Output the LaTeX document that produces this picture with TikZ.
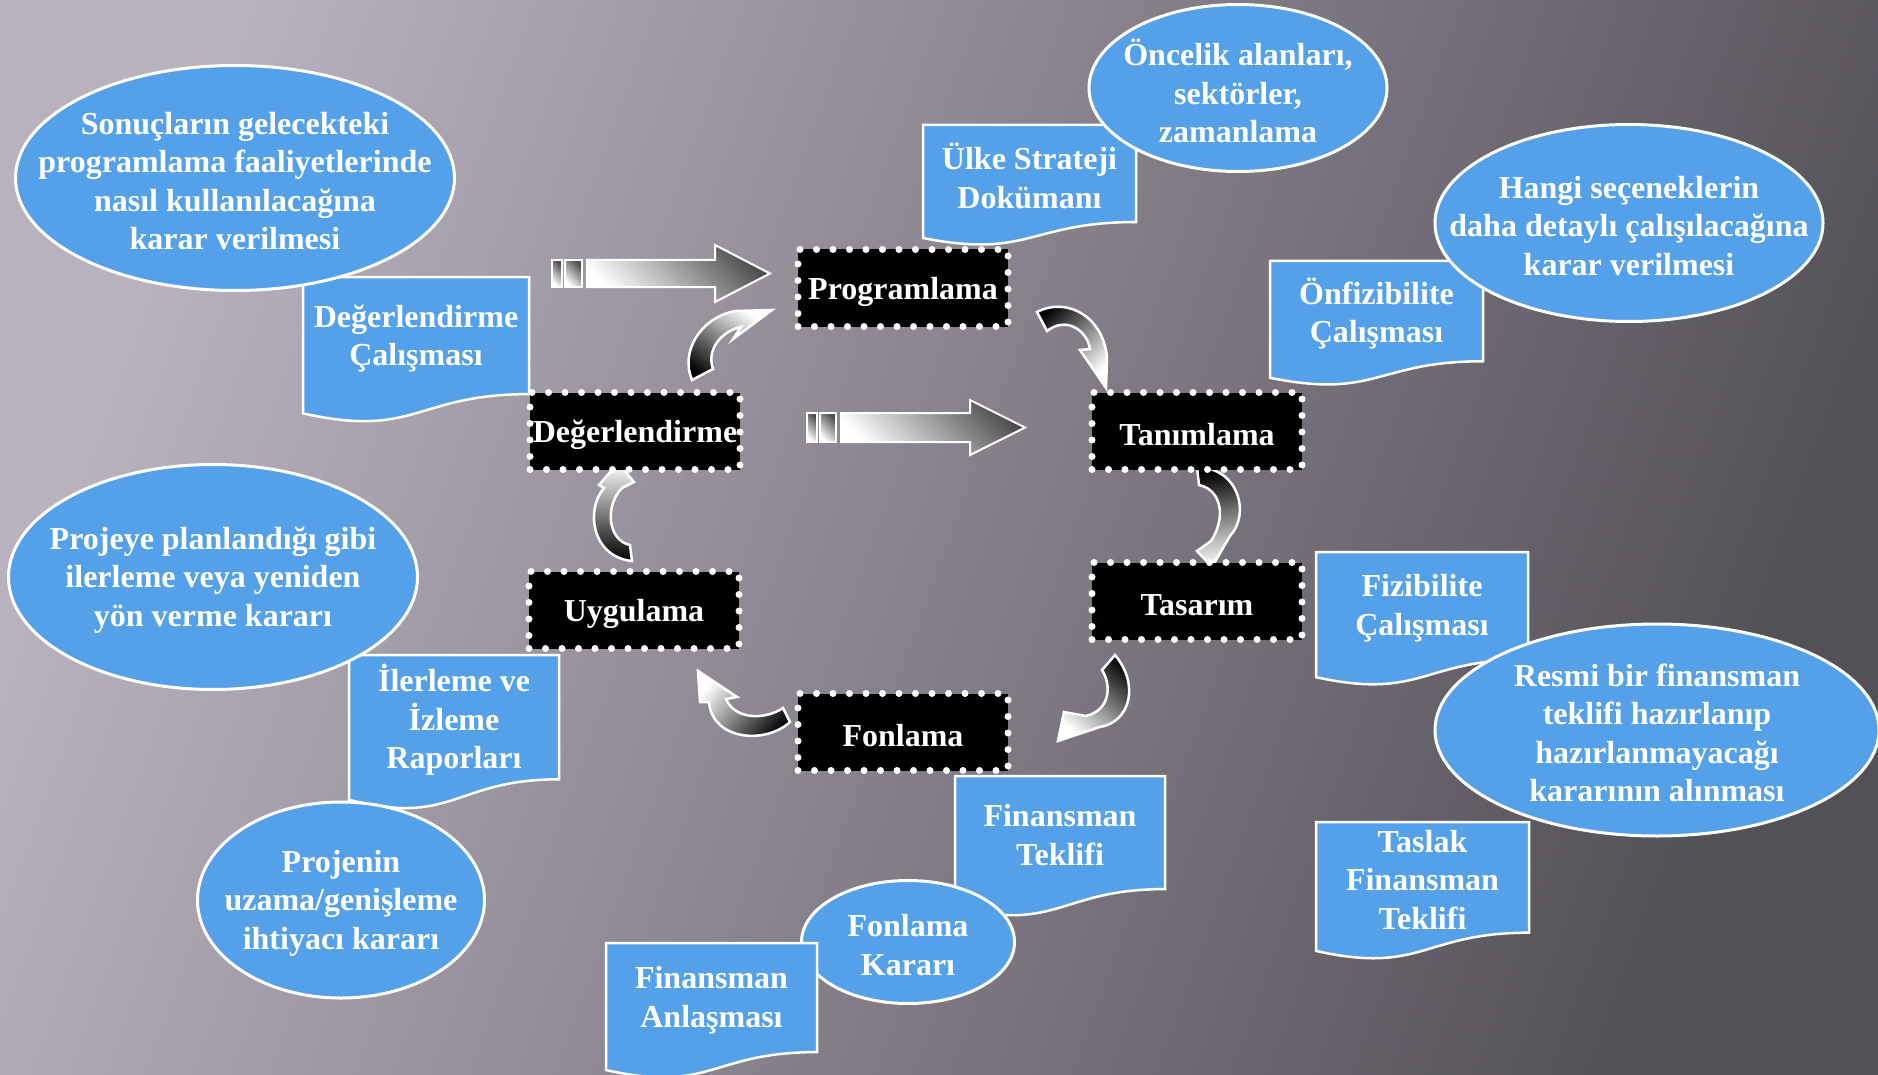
\documentclass[tikz,border=0pt]{standalone}
\usepackage{fontspec}
\setmainfont{Liberation Serif}
\usetikzlibrary{shapes.geometric}
\definecolor{bgLight}{RGB}{184,178,190}
\definecolor{bgDark}{RGB}{84,80,88}
\definecolor{noteBlue}{RGB}{84,160,233}
\newcommand{\labelFont}{\fontsize{32}{38.5}\selectfont\bfseries}
\newcommand{\docShape}[6]{%
  \draw[docframe] (#2,#3) -- ({#2+#4},#3) -- ({#2+#4},{#3+0.802*#5})
    .. controls ({#2+0.5*#4},{#3+0.802*#5}) and ({#2+0.5*#4},{#3+1.1075*#5}) .. (#2,{#3+0.934*#5}) -- cycle;
  \node[notetext] (#1) at ({#2+0.5*#4},{#3+0.42*#5}) {#6};}
\newcommand{\noteBubble}[6]{%
  \node[bubble, minimum width=#4pt, minimum height=#5pt] (#1) at (#2,#3) {};
  \node[notetext, yshift=-3pt] (#1-txt) at (#1) {#6};}

\begin{document}
\begin{tikzpicture}[x=1pt, y=-1pt,
    stage/.style={rectangle, fill=black, draw=white, line width=7pt, dash pattern=on 0pt off 16.5pt,
      line cap=round, minimum width=210pt, minimum height=77pt, inner sep=0pt, text=white, font=\labelFont},
    stagetext/.style={text=white, font=\labelFont, inner sep=0pt, yshift=-4pt},
    bubble/.style={ellipse, fill=noteBlue, draw=white, line width=3pt, inner sep=0pt},
    notetext/.style={align=center, text=white, font=\labelFont, inner sep=0pt},
    docframe/.style={fill=noteBlue, draw=white, line width=2.5pt},
    blockarrow/.style={draw=white, line width=2pt, top color=black!70, bottom color=white, shading angle=-45},
    turnarrow/.style={draw=white, line width=2.5pt}]
\useasboundingbox (0,0) rectangle (1878,1075);
\shade[top color=bgLight, bottom color=bgDark, shading angle=70] (0,0) rectangle (1878,1075);

\shadedraw[blockarrow] (552,260) rectangle (562,287);
\shadedraw[blockarrow] (565,260) rectangle (582,287);
\shadedraw[blockarrow] (587,260) -- (715,260) -- (715,245) -- (770,273.5) -- (715,302) -- (715,287) -- (587,287) -- cycle;
\shadedraw[blockarrow] (807,413) rectangle (817,442);
\shadedraw[blockarrow] (820,413) rectangle (836,442);
\shadedraw[blockarrow] (841,413) -- (970,413) -- (970,400) -- (1025,427.5) -- (970,455) -- (970,442) -- (841,442) -- cycle;

\shadedraw[turnarrow, top color=white, bottom color=black, shading angle=-35] (692,380) .. controls (680,352) and (700,318) .. (735,311) -- (772,310) -- (733,339) -- (741,327) .. controls (722,331) and (706,349) .. (713,369) -- cycle;
\shadedraw[turnarrow, top color=black, bottom color=white, shading angle=45] (1037,312) .. controls (1068,296) and (1104,318) .. (1107,358) -- (1106,388) -- (1080,350) -- (1090,349) .. controls (1087,330) and (1066,316) .. (1047,331) -- cycle;
\shadedraw[turnarrow, top color=black, bottom color=white, shading angle=10] (1197,467) .. controls (1240,468) and (1250,515) .. (1230,536) -- (1212,567) -- (1197,551) -- (1211,541) .. controls (1226,518) and (1222,490) .. (1199,485) -- cycle;
\shadedraw[turnarrow, top color=black, bottom color=white, shading angle=-40] (1115,655) .. controls (1140,685) and (1130,722) .. (1100,727) -- (1058,741) -- (1064,712) -- (1086,716) .. controls (1110,710) and (1112,686) .. (1102,670) -- cycle;
\shadedraw[turnarrow, top color=white, bottom color=black, shading angle=50] (790,722) .. controls (765,745) and (712,740) .. (709,702) -- (700,702) -- (698,671) -- (737,697) -- (726,699) .. controls (735,720) and (765,720) .. (783,708) -- cycle;
\shadedraw[turnarrow, top color=white, bottom color=black] (632,561) .. controls (592,557) and (585,510) .. (604,488) -- (599,485) -- (618,463) -- (634,482) -- (622,488) .. controls (605,505) and (607,540) .. (630,545) -- cycle;

\docShape{ulke}{923}{125}{213}{121}{Ülke Strateji\\Dokümanı}
\docShape{degcalisma}{303}{277}{226}{146}{Değerlendirme\\Çalışması}
\docShape{onfiz}{1270}{261}{213}{125}{Önfizibilite\\Çalışması}
\docShape{fiz}{1316}{552}{212}{134}{Fizibilite\\Çalışması}
\docShape{rapor}{349}{655}{210}{155}{İlerleme ve\\İzleme\\Raporları}
\docShape{teklif}{955}{776}{210}{141}{Finansman\\Teklifi}
\docShape{taslak}{1316}{822}{213}{138}{Taslak\\Finansman\\Teklifi}

\noteBubble{sonuc}{235}{178}{439}{225}{Sonuçların gelecekteki\\programlama faaliyetlerinde\\nasıl kullanılacağına\\karar verilmesi}
\noteBubble{oncelik}{1238}{88}{298}{167}{Öncelik alanları,\\sektörler,\\zamanlama}
\noteBubble{secenek}{1629}{223}{388}{197}{Hangi seçeneklerin\\daha detaylı çalışılacağına\\karar verilmesi}
\noteBubble{yonver}{213}{577}{409}{225}{Projeye planlandığı gibi\\ilerleme veya yeniden\\yön verme kararı}
\noteBubble{resmi}{1657}{730}{444}{212}{Resmi bir finansman\\teklifi hazırlanıp\\hazırlanmayacağı\\kararının alınması}
\noteBubble{uzama}{341}{900}{287}{196}{Projenin\\uzama/genişleme\\ihtiyacı kararı}
\noteBubble{fonkarar}{908}{942}{213}{123}{Fonlama\\Kararı}

\docShape{anlasma}{606}{943}{211}{136}{Finansman\\Anlaşması}

\node[stage] (prog) at (903,288) {};
\node[stagetext] (prog-txt) at (prog) {Programlama};
\node[stage] (tanim) at (1197,431) {};
\node[stagetext] (tanim-txt) at (tanim) {Tanımlama};
\node[stage] (tasar) at (1197,601) {};
\node[stagetext] (tasar-txt) at (tasar) {Tasarım};
\node[stage] (fonla) at (903,732) {};
\node[stagetext] (fonla-txt) at (fonla) {Fonlama};
\node[stage] (uygul) at (634,610) {};
\node[stagetext] (uygul-txt) at (uygul) {Uygulama};
\node[stage] (degerl) at (635,431) {};
\node[stagetext] (degerl-txt) at (degerl) {Değerlendirme};
\end{tikzpicture}
\end{document}
